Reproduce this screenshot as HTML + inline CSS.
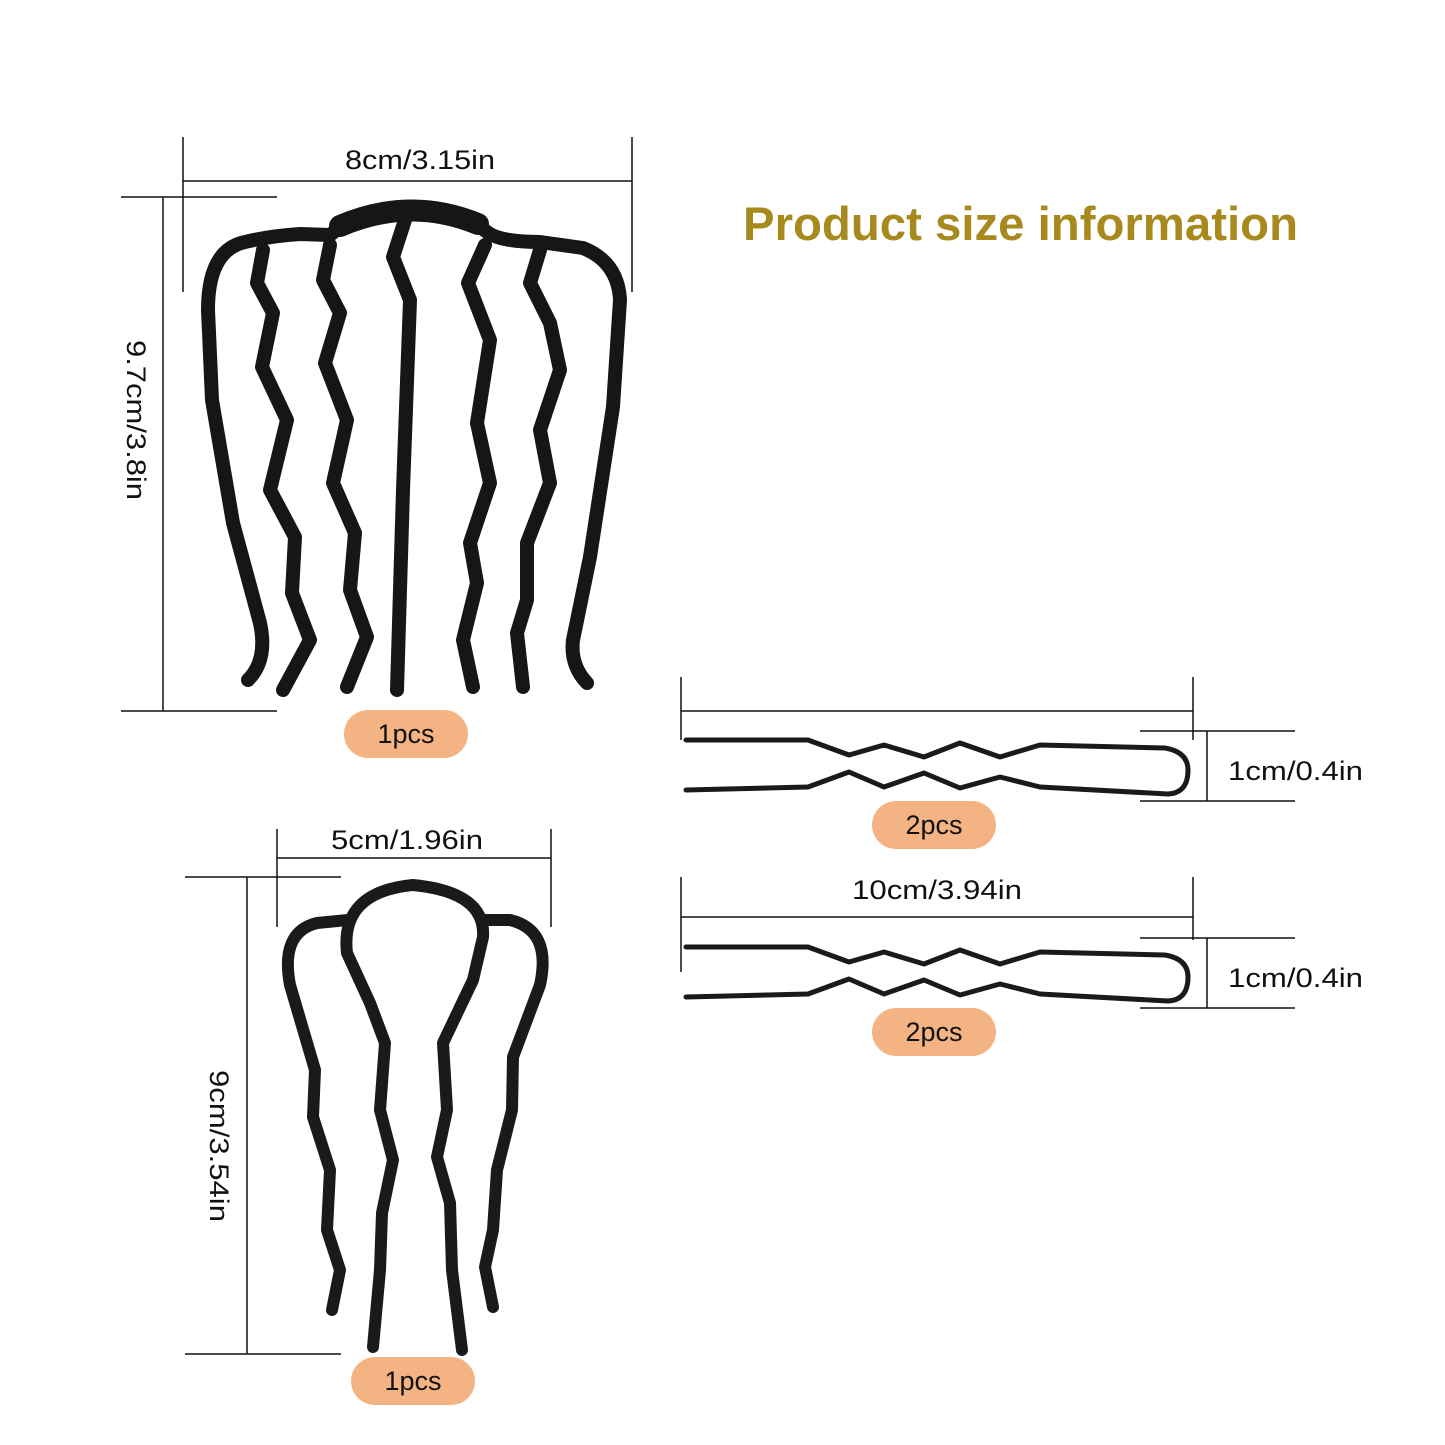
<!DOCTYPE html>
<html><head><meta charset="utf-8"><style>
html,body{margin:0;padding:0;background:#fff}
svg{display:block}
text{font-family:"Liberation Sans",sans-serif;fill:#111}
</style></head><body>
<svg width="1445" height="1445" viewBox="0 0 1445 1445" xmlns="http://www.w3.org/2000/svg">
<rect width="1445" height="1445" fill="#fff"/>
<text x="743" y="240" font-size="47" font-weight="bold" style="fill:#a8891d" textLength="555" lengthAdjust="spacingAndGlyphs">Product size information</text>

<g stroke="#111" stroke-width="1.5" fill="none">
<line x1="183" y1="181" x2="632" y2="181"/>
<line x1="183" y1="137" x2="183" y2="292"/>
<line x1="632" y1="137" x2="632" y2="292"/>
<line x1="163" y1="197" x2="163" y2="711"/>
<line x1="121" y1="197" x2="277" y2="197"/>
<line x1="121" y1="711" x2="277" y2="711"/>
<line x1="277" y1="858" x2="551" y2="858"/>
<line x1="277" y1="829" x2="277" y2="927"/>
<line x1="551" y1="829" x2="551" y2="927"/>
<line x1="247" y1="877" x2="247" y2="1354"/>
<line x1="185" y1="877" x2="341" y2="877"/>
<line x1="185" y1="1354" x2="341" y2="1354"/>
<line x1="681" y1="711" x2="1193" y2="711"/>
<line x1="681" y1="677" x2="681" y2="740"/>
<line x1="1193" y1="677" x2="1193" y2="740"/>
<line x1="1207" y1="731" x2="1207" y2="801"/>
<line x1="1140" y1="731" x2="1295" y2="731"/>
<line x1="1140" y1="801" x2="1295" y2="801"/>
<line x1="681" y1="917" x2="1193" y2="917"/>
<line x1="681" y1="877" x2="681" y2="972"/>
<line x1="1193" y1="877" x2="1193" y2="940"/>
<line x1="1207" y1="938" x2="1207" y2="1008"/>
<line x1="1140" y1="938" x2="1295" y2="938"/>
<line x1="1140" y1="1008" x2="1295" y2="1008"/>
</g>

<text x="345" y="169" font-size="27" textLength="150" lengthAdjust="spacingAndGlyphs">8cm/3.15in</text>
<text x="331" y="849" font-size="27" textLength="152" lengthAdjust="spacingAndGlyphs">5cm/1.96in</text>
<text x="852" y="899" font-size="27" textLength="170" lengthAdjust="spacingAndGlyphs">10cm/3.94in</text>
<text x="1228" y="780" font-size="27" textLength="135" lengthAdjust="spacingAndGlyphs">1cm/0.4in</text>
<text x="1228" y="987" font-size="27" textLength="135" lengthAdjust="spacingAndGlyphs">1cm/0.4in</text>
<text transform="translate(127,340) rotate(90)" font-size="27" textLength="160" lengthAdjust="spacingAndGlyphs">9.7cm/3.8in</text>
<text transform="translate(210,1070) rotate(90)" font-size="27" textLength="152" lengthAdjust="spacingAndGlyphs">9cm/3.54in</text>

<g fill="#f4b383">
<rect x="344" y="710" width="124" height="48" rx="24"/>
<rect x="351" y="1357" width="124" height="48" rx="24"/>
<rect x="872" y="801" width="124" height="48" rx="24"/>
<rect x="872" y="1008" width="124" height="48" rx="24"/>
</g>
<g font-size="27" text-anchor="middle">
<text x="406" y="743">1pcs</text>
<text x="413" y="1390">1pcs</text>
<text x="934" y="834">2pcs</text>
<text x="934" y="1041">2pcs</text>
</g>

<!-- big comb -->
<g stroke="#161616" stroke-width="14" fill="none" stroke-linecap="round" stroke-linejoin="round">
<path d="M248,680 Q268,660 260,623 L233,523 L212,400 L208,310 Q208,250 245,242 Q270,236 300,234 L330,235 Q360,210 410,208 Q460,210 487,232 Q500,242 540,242 L583,248 Q618,262 620,300 L613,407 L590,557 L573,640 Q570,665 587,683"/>
<path d="M340,226 Q410,196 478,224" stroke-width="22"/>
<path d="M263,250 L257,283 L273,313 L262,367 L287,420 L270,490 L295,537 L292,593 L310,640 L283,690"/>
<path d="M330,245 L323,280 L340,313 L325,363 L347,420 L333,483 L355,533 L350,590 L367,637 L347,687"/>
<path d="M405,220 L393,257 L410,300 L403,490 L397,690"/>
<path d="M485,245 L468,283 L490,340 L477,423 L490,483 L470,543 L477,583 L463,640 L473,687"/>
<path d="M540,250 L530,283 L550,323 L560,370 L540,430 L550,483 L527,543 L527,600 L517,633 L523,687"/>
</g>

<!-- small comb -->
<g stroke="#1a1a1a" stroke-width="12" fill="none" stroke-linecap="round" stroke-linejoin="round">
<path d="M332,1310 L340,1270 L327,1230 L330,1170 L313,1117 L315,1070 L290,985 Q280,932 317,923 L348,920"/>
<path d="M493,1307 L485,1267 L493,1230 L497,1170 L512,1110 L513,1057 L540,985 Q552,930 510,920 L483,920"/>
<path d="M373,1347 L380,1270 L382,1213 L393,1160 L380,1110 L385,1043 L370,1003 L347,953 Q340,892 413,885 Q486,892 483,937 L473,980 L443,1043 L447,1110 L437,1157 L450,1203 L452,1270 L462,1350"/>
</g>

<!-- pins -->
<g stroke="#1a1a1a" stroke-width="5" fill="none" stroke-linecap="round" stroke-linejoin="round">
<path d="M686,740 L808,740 L849,755 L884,745 L924,757 L960,743 L1000,757 L1040,745 L1165,748 Q1188,752 1188,770 Q1188,793 1168,794 L1040,787 L1000,777 L960,788 L924,773 L884,787 L849,772 L808,787 L686,790"/>
<path d="M686,947 L808,947 L849,962 L884,952 L924,964 L960,950 L1000,964 L1040,952 L1165,955 Q1188,959 1188,977 Q1188,1000 1168,1001 L1040,994 L1000,984 L960,995 L924,980 L884,994 L849,979 L808,994 L686,997"/>
</g>
</svg>
</body></html>
